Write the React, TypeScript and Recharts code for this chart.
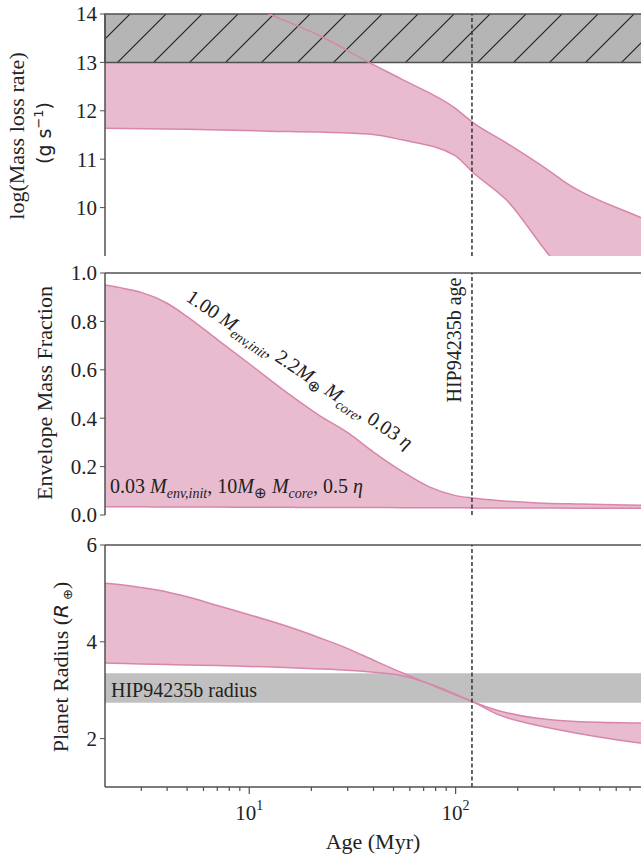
import React from 'react';
import {
  ComposedChart,
  Area,
  Line,
  XAxis,
  YAxis,
  ReferenceLine,
  ReferenceArea,
} from 'recharts';

// x values (Myr), one list per panel
const rateAges = [2, 5, 12.5, 22, 38, 55, 99, 121, 177, 286, 346, 782, 1000];
const rateUpper = [15.6, 14.8, 14.0, 13.55, 13.0, 12.65, 12.06, 11.76, 11.33, 10.75, 10.5, 9.8, 9.6];
const rateLower = [11.64, 11.62, 11.58, 11.56, 11.52, 11.4, 11.08, 10.73, 10.15, 9.0, 8.6, 7.2, 7.0];

const envAges = [2, 2.5, 3, 4, 5, 7, 10, 15, 22, 30, 40, 55, 75, 100, 121, 160, 250, 400, 782, 1000];
const envUpper = [0.95, 0.935, 0.92, 0.875, 0.82, 0.725, 0.625, 0.51, 0.41, 0.34, 0.26, 0.18, 0.115, 0.08, 0.07, 0.06, 0.05, 0.045, 0.04, 0.038];
const envLower = [0.034, 0.034, 0.034, 0.033, 0.033, 0.033, 0.032, 0.032, 0.031, 0.031, 0.031, 0.030, 0.030, 0.030, 0.029, 0.029, 0.029, 0.028, 0.028, 0.028];

const radAges = [2, 2.5, 3, 4, 5, 7, 10, 15, 22, 30, 40, 55, 75, 100, 121, 160, 250, 400, 782, 1000];
const radBig = [5.21, 5.17, 5.12, 5.03, 4.93, 4.75, 4.56, 4.33, 4.08, 3.86, 3.62, 3.36, 3.12, 2.9, 2.76, 2.5, 2.27, 2.1, 1.91, 1.86];
const radSmall = [3.56, 3.55, 3.54, 3.53, 3.52, 3.51, 3.49, 3.47, 3.44, 3.41, 3.37, 3.3, 3.13, 2.92, 2.76, 2.58, 2.42, 2.35, 2.32, 2.31];

const rateTicks = [10, 11, 12, 13, 14];
const envTicks = [0, 0.2, 0.4, 0.6, 0.8, 1.0];
const radTicks = [2, 4, 6];
const ageDecades = [10, 100];
const ageTicks = [3, 4, 5, 6, 7, 8, 9, 10, 20, 30, 40, 50, 60, 70, 80, 90, 100, 200, 300, 400, 500, 600, 700, 800, 900];

const hatchBand = [13, 14];
const radiusBand = [2.74, 3.35];
const hipAge = 120;

const SERIF = '"Liberation Serif", "Times New Roman", serif';
const SANS = '"DejaVu Sans", sans-serif';
const PINK = '#e9bbcf';
const PINK_LINE = '#d886ac';
const FRAME = '#505050';
const INK = '#222';
const W = 680;
const MARGIN_X = { left: 45, right: 18 };
const AGE_DOMAIN = [2, 1000];

const toRows = (ages: number[], a: number[], b: number[]) =>
  ages.map((age, i) => ({
    age,
    hi: a[i],
    lo: b[i],
    band: [Math.min(a[i], b[i]), Math.max(a[i], b[i])],
  }));

const rateData = toRows(rateAges, rateUpper, rateLower);
const envData = toRows(envAges, envUpper, envLower);
const radData = toRows(radAges, radBig, radSmall);

const yTick = { fill: INK, fontSize: 21, fontFamily: SERIF };

const AgeTick = (props: any) => {
  const { x, y, payload } = props;
  const v = payload.value;
  const major = ageDecades.includes(v);
  return (
    <g>
      <line x1={x} x2={x} y1={y} y2={y + (major ? 7 : 4)} stroke={FRAME} strokeWidth={1.2} />
      {major && (
        <text x={x} y={y + 33} textAnchor="middle" fill={INK} fontSize={21} fontFamily={SERIF}>
          10
          <tspan dy={-10} fontSize={14}>{Math.round(Math.log10(v))}</tspan>
        </text>
      )}
    </g>
  );
};

const band = () => (
  <Area dataKey="band" type="monotone" fill={PINK} fillOpacity={1} stroke="none" isAnimationActive={false} />
);

const edgeLines = () => [
  <Line key="hi" dataKey="hi" type="monotone" stroke={PINK_LINE} strokeWidth={1.5} dot={false} isAnimationActive={false} />,
  <Line key="lo" dataKey="lo" type="monotone" stroke={PINK_LINE} strokeWidth={1.5} dot={false} isAnimationActive={false} />,
];

const hiddenX = (
  <XAxis
    dataKey="age"
    type="number"
    scale="log"
    domain={AGE_DOMAIN}
    allowDataOverflow
    tick={false}
    tickLine={false}
    height={0}
    axisLine={{ stroke: FRAME, strokeWidth: 1.5 }}
  />
);

const yAxisProps = {
  type: 'number' as const,
  allowDataOverflow: true,
  width: 60,
  interval: 0 as const,
  tick: yTick,
  tickSize: 5,
  tickMargin: 3,
  tickLine: { stroke: FRAME },
  axisLine: { stroke: FRAME, strokeWidth: 1.5 },
};

const ageLine = <ReferenceLine x={hipAge} stroke="#333" strokeWidth={1.5} strokeDasharray="4 2.5" />;

// mathtext-like label: "<lead> M_env,init, <mid>M_⊕ M_core, <tail> η"
const ModelLabel = ({ lead, mid, tail }: { lead: string; mid: string; tail: string }) => (
  <>
    {lead} <tspan fontStyle="italic">M</tspan>
    <tspan dy={5} fontSize={14} fontStyle="italic">env,init</tspan>
    <tspan dy={-5}>, {mid}</tspan>
    <tspan fontStyle="italic">M</tspan>
    <tspan dy={5} fontSize={15}>⊕</tspan>
    <tspan dy={-5}> </tspan>
    <tspan fontStyle="italic">M</tspan>
    <tspan dy={5} fontSize={14} fontStyle="italic">core</tspan>
    <tspan dy={-5}>, {tail} </tspan>
    <tspan fontStyle="italic">η</tspan>
  </>
);

export default function App() {
  return (
    <div style={{ position: 'absolute', left: 0, top: 0, width: 641, height: 857, overflow: 'hidden', background: '#fff' }}>
      {/* Mass loss rate */}
      <div style={{ position: 'absolute', left: 0, top: 0 }}>
        <ComposedChart width={W} height={265} data={rateData} margin={{ top: 14, bottom: 9, ...MARGIN_X }}>
          <defs>
            <pattern id="hatch" patternUnits="userSpaceOnUse" width={36} height={36}>
              <rect width={36} height={36} fill="#b5b5b5" />
              <path d="M0,36 L36,0 M-9,9 L9,-9 M27,45 L45,27" stroke={INK} strokeWidth={1.2} />
            </pattern>
          </defs>
          {hiddenX}
          <YAxis {...yAxisProps} domain={[9, 14]} ticks={rateTicks} />
          {band()}
          <ReferenceArea y1={hatchBand[0]} y2={hatchBand[1]} fill="url(#hatch)" fillOpacity={1} stroke={FRAME} strokeWidth={1.5} />
          {edgeLines()}
          {ageLine}
        </ComposedChart>
      </div>

      {/* Envelope mass fraction */}
      <div style={{ position: 'absolute', left: 0, top: 250 }}>
        <ComposedChart width={W} height={285} data={envData} margin={{ top: 23, bottom: 20, ...MARGIN_X }}>
          {hiddenX}
          <YAxis {...yAxisProps} domain={[0, 1]} ticks={envTicks} tickFormatter={(v: number) => v.toFixed(1)} />
          <ReferenceLine y={1} stroke={FRAME} strokeWidth={1.5} />
          {band()}
          {edgeLines()}
          {ageLine}
        </ComposedChart>
      </div>

      {/* Planet radius */}
      <div style={{ position: 'absolute', left: 0, top: 520 }}>
        <ComposedChart width={W} height={337} data={radData} margin={{ top: 25, bottom: 0, ...MARGIN_X }}>
          <XAxis
            dataKey="age"
            type="number"
            scale="log"
            domain={AGE_DOMAIN}
            allowDataOverflow
            ticks={ageTicks}
            tick={<AgeTick />}
            tickSize={0}
            tickMargin={0}
            tickLine={false}
            interval={0}
            height={70}
            axisLine={{ stroke: FRAME, strokeWidth: 1.5 }}
          />
          <YAxis {...yAxisProps} domain={[1, 6]} ticks={radTicks} />
          <ReferenceLine y={6} stroke={FRAME} strokeWidth={1.5} />
          <ReferenceArea y1={radiusBand[0]} y2={radiusBand[1]} fill="#c0c0c0" fillOpacity={1} stroke="none" />
          {band()}
          {edgeLines()}
          {ageLine}
        </ComposedChart>
      </div>

      {/* titles and annotations, drawn above the plots */}
      <svg width={641} height={857} style={{ position: 'absolute', left: 0, top: 0, pointerEvents: 'none' }}>
        <g fontFamily={SERIF} fill={INK}>
          <text x={24} y={136} transform="rotate(-90 24 136)" textAnchor="middle" fontSize={22}>
            log(Mass loss rate)
          </text>
          <text x={51} y={133} transform="rotate(-90 51 133)" textAnchor="middle" fontSize={19} fontFamily={SANS}>
            (g s<tspan dy={-8} fontSize={13}>−1</tspan><tspan dy={8}>)</tspan>
          </text>
          <text x={52} y={393} transform="rotate(-90 52 393)" textAnchor="middle" fontSize={22}>
            Envelope Mass Fraction
          </text>
          <text x={68} y={667} transform="rotate(-90 68 667)" textAnchor="middle" fontSize={22}>
            Planet Radius (<tspan fontFamily={SANS} fontStyle="italic" fontSize={20}>R</tspan>
            <tspan dy={4} fontSize={13} fontFamily={SANS}> ⊕</tspan>
            <tspan dy={-4}>)</tspan>
          </text>
          <text x={373} y={849} textAnchor="middle" fontSize={22}>
            Age (Myr)
          </text>
          <text x={461} y={340} transform="rotate(-90 461 340)" textAnchor="middle" fontSize={20}>
            HIP94235b age
          </text>
          <text x={185} y={300} transform="rotate(34 185 300)" fontSize={20}>
            <ModelLabel lead="1.00" mid="2.2" tail="0.03" />
          </text>
          <text x={110} y={493} fontSize={20}>
            <ModelLabel lead="0.03" mid="10" tail="0.5" />
          </text>
          <text x={111} y={697} fontSize={20}>
            HIP94235b radius
          </text>
        </g>
      </svg>
    </div>
  );
}
